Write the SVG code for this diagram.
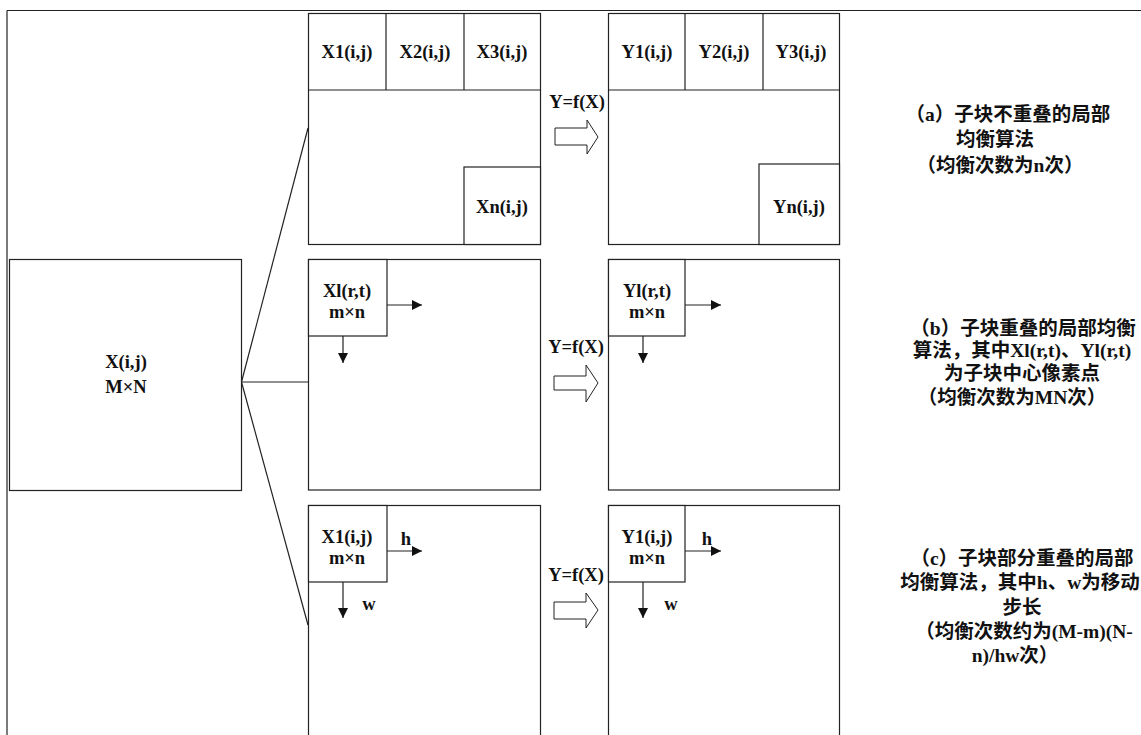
<svg xmlns="http://www.w3.org/2000/svg" width="1141" height="735" viewBox="0 0 1141 735">
<defs>
<style>
.bx{fill:#fff;stroke:#222;stroke-width:1.2}
.ln{fill:none;stroke:#222;stroke-width:1.2}
.ar{fill:none;stroke:#222;stroke-width:1.2;marker-end:url(#tri)}
.ha{fill:#fff;stroke:#222;stroke-width:1}
.t{font-family:"Liberation Serif","Noto Sans CJK SC",serif;font-weight:bold;font-size:18.5px;fill:#111;text-anchor:middle}
.c{font-family:"Liberation Serif","Noto Sans CJK SC",serif;font-weight:bold;font-size:19.5px;fill:#111;text-anchor:middle}
</style>
<marker id="tri" viewBox="0 0 10 10" refX="10" refY="5" markerWidth="10" markerHeight="10" markerUnits="userSpaceOnUse" orient="auto">
<path d="M0,0 L10,5 L0,10 Z" fill="#111"/>
</marker>
</defs>
<rect width="1141" height="735" fill="#fff"/>
<g id="frame">
<line class="ln" x1="7" y1="10.5" x2="1141" y2="10.5"/>
<line class="ln" x1="7" y1="10.5" x2="7" y2="735"/>
</g>
<g id="source">
<rect class="bx" x="9.5" y="259.5" width="232" height="231"/>
<text class="t" x="126" y="368">X(i,j)</text>
<text class="t" x="126" y="393">M×N</text>
</g>
<g id="panel-a-x">
<rect class="bx" x="308.5" y="13.5" width="232" height="231"/>
<line class="ln" x1="308.5" y1="90" x2="540.5" y2="90"/>
<line class="ln" x1="386" y1="13.5" x2="386" y2="90"/>
<line class="ln" x1="464" y1="13.5" x2="464" y2="90"/>
<rect class="bx" x="464" y="167" width="76.5" height="77.5"/>
<text class="t" x="347" y="58">X1(i,j)</text>
<text class="t" x="425" y="58">X2(i,j)</text>
<text class="t" x="502" y="58">X3(i,j)</text>
<text class="t" x="502" y="213">Xn(i,j)</text>
</g>
<g id="label-a"><text class="t" x="577" y="108">Y=f(X)</text></g>
<g id="panel-a-y">
<rect class="bx" x="608.5" y="13.5" width="231" height="231"/>
<line class="ln" x1="608.5" y1="90" x2="839.5" y2="90"/>
<line class="ln" x1="685" y1="13.5" x2="685" y2="90"/>
<line class="ln" x1="763" y1="13.5" x2="763" y2="90"/>
<rect class="bx" x="759" y="164" width="80.5" height="80.5"/>
<text class="t" x="647" y="58">Y1(i,j)</text>
<text class="t" x="724" y="58">Y2(i,j)</text>
<text class="t" x="801" y="58">Y3(i,j)</text>
<text class="t" x="799" y="213">Yn(i,j)</text>
</g>
<g id="caption-a">
<text class="c" x="1008" y="121">（a）子块不重叠的局部</text>
<text class="c" x="995" y="146">均衡算法</text>
<text class="c" x="1000" y="172">（均衡次数为n次）</text>
</g>
<g id="panel-b-x">
<rect class="bx" x="308.5" y="259.5" width="232" height="230.5"/>
<rect class="bx" x="308.5" y="259.5" width="78.5" height="76.5"/>
<text class="t" x="347" y="297">Xl(r,t)</text>
<text class="t" x="347" y="318">m×n</text>
</g>
<g id="label-b"><text class="t" x="576" y="353">Y=f(X)</text></g>
<g id="panel-b-y">
<rect class="bx" x="608.5" y="259.5" width="231" height="230.5"/>
<rect class="bx" x="608.5" y="259.5" width="76.5" height="76.5"/>
<text class="t" x="647" y="297">Yl(r,t)</text>
<text class="t" x="647" y="318">m×n</text>
</g>
<g id="caption-b">
<text class="c" x="1023" y="335">（b）子块重叠的局部均衡</text>
<text class="c" x="1022" y="357">算法，其中Xl(r,t)、Yl(r,t)</text>
<text class="c" x="1022" y="380">为子块中心像素点</text>
<text class="c" x="1012" y="404">（均衡次数为MN次）</text>
</g>
<g id="panel-c-x">
<rect class="bx" x="308.5" y="505.5" width="232" height="240"/>
<rect class="bx" x="308.5" y="505.5" width="78.5" height="76.5"/>
<text class="t" x="347" y="543">X1(i,j)</text>
<text class="t" x="347" y="564">m×n</text>
<text class="t" x="406" y="545">h</text>
<text class="t" x="369" y="610">w</text>
</g>
<g id="label-c"><text class="t" x="576" y="581">Y=f(X)</text></g>
<g id="panel-c-y">
<rect class="bx" x="608.5" y="505.5" width="231" height="240"/>
<rect class="bx" x="608.5" y="505.5" width="76.5" height="76.5"/>
<text class="t" x="647" y="543">Y1(i,j)</text>
<text class="t" x="647" y="564">m×n</text>
<text class="t" x="707" y="545">h</text>
<text class="t" x="671" y="610">w</text>
</g>
<g id="caption-c">
<text class="c" x="1022" y="565">（c）子块部分重叠的局部</text>
<text class="c" x="1020" y="589">均衡算法，其中h、w为移动</text>
<text class="c" x="1022" y="614">步长</text>
<text class="c" x="1024" y="638">（均衡次数约为(M-m)(N-</text>
<text class="c" x="1015" y="662">n)/hw次）</text>
</g>
<g id="connectors">
<line class="ln" x1="241.5" y1="382" x2="308" y2="128"/>
<line class="ln" x1="241.5" y1="382" x2="308" y2="382"/>
<line class="ln" x1="241.5" y1="382" x2="308" y2="625"/>
<line class="ar" x1="387" y1="305" x2="422" y2="305"/>
<line class="ar" x1="343" y1="336" x2="343" y2="363"/>
<line class="ar" x1="685" y1="305" x2="721" y2="305"/>
<line class="ar" x1="643" y1="336" x2="643" y2="363"/>
<line class="ar" x1="387" y1="551" x2="422" y2="551"/>
<line class="ar" x1="343" y1="582" x2="343" y2="618"/>
<line class="ar" x1="685" y1="551" x2="721" y2="551"/>
<line class="ar" x1="643" y1="582" x2="643" y2="618"/>
<polygon class="ha" points="555,128 587,128 587,120 598,137 587,154 587,145 555,145"/>
<polygon class="ha" points="554,376 586,376 586,365 598,383 586,402 586,390 554,390"/>
<polygon class="ha" points="554,602 586,602 586,593 598,610 586,628 586,619 554,619"/>
</g>
</svg>
